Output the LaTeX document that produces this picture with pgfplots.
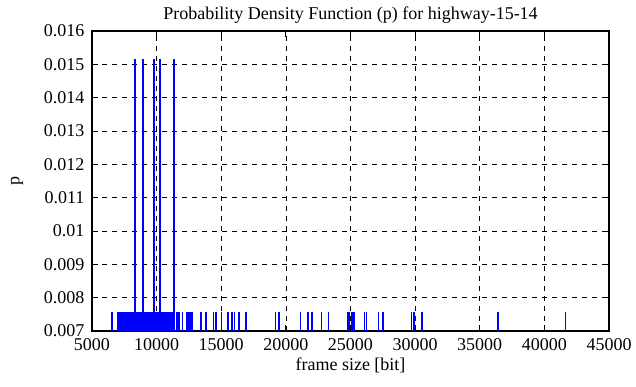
\documentclass[border=0pt]{standalone}
\usepackage{pgfplots}
\pgfplotsset{compat=1.18}
\usepackage{fontspec}
\setmainfont{Liberation Serif}
\begin{document}
\begin{tikzpicture}
\begin{axis}[
  scale only axis,
  width=517bp, height=300bp,
  xmin=5000, xmax=45000, ymin=0.007, ymax=0.016,
  scaled ticks=false,
  xtick={5000,10000,15000,20000,25000,30000,35000,40000,45000},
  xticklabels={5000,10000,15000,20000,25000,30000,35000,40000,45000},
  ytick={0.007,0.008,0.009,0.010,0.011,0.012,0.013,0.014,0.015,0.016},
  yticklabels={0.007,0.008,0.009,0.01,0.011,0.012,0.013,0.014,0.015,0.016},
  tick align=inside,
  major tick length=6bp,
  tick style={black, line width=1pt},
  axis line style={line width=1.4pt},
  grid=major,
  major grid style={black, dashed, line width=0.6pt, dash pattern=on 5bp off 5bp},
  tick label style={font=\fontsize{18bp}{20bp}\selectfont},
  label style={font=\fontsize{18bp}{20bp}\selectfont},
  title style={font=\fontsize{18bp}{20bp}\selectfont},
  title={Probability Density Function (p) for highway-15-14},
  xlabel={frame size [bit]},
  ylabel={p},
  every axis title/.append style={yshift=-2bp},
  xlabel style={yshift=0bp},
  ylabel style={yshift=14bp},
  xticklabel style={yshift=-4bp},
  yticklabel style={xshift=-4bp},
  clip=true,
]
\addplot[ycomb, no marks, color={rgb,255:red,0;green,0;blue,255}, line width=1.6pt] coordinates {
(6570,0.0075758) (7020,0.0075758) (7120,0.0075758) (7260,0.0075758) (7400,0.0075758)
(7480,0.0075758) (7530,0.0075758) (7575,0.0075758) (7630,0.0075758) (7660,0.0075758)
(7690,0.0075758) (7730,0.0075758) (7790,0.0075758) (7840,0.0075758) (7880,0.0075758)
(7935,0.0075758) (7990,0.0075758) (8040,0.0075758) (8090,0.0075758) (8140,0.0075758)
(8180,0.0075758) (8230,0.0075758) (8280,0.0075758) (8370,0.0075758) (8410,0.0075758)
(8460,0.0075758) (8510,0.0075758) (8560,0.0075758) (8610,0.0075758) (8650,0.0075758)
(8700,0.0075758) (8750,0.0075758) (8800,0.0075758) (8850,0.0075758) (8900,0.0075758)
(8950,0.0075758) (9010,0.0075758) (9060,0.0075758) (9110,0.0075758) (9150,0.0075758)
(9200,0.0075758) (9250,0.0075758) (9300,0.0075758) (9350,0.0075758) (9390,0.0075758)
(9440,0.0075758) (9490,0.0075758) (9530,0.0075758) (9580,0.0075758) (9630,0.0075758)
(9680,0.0075758) (9730,0.0075758) (9780,0.0075758) (9840,0.0075758) (9890,0.0075758)
(9940,0.0075758) (9990,0.0075758) (10040,0.0075758) (10090,0.0075758) (10140,0.0075758)
(10190,0.0075758) (10300,0.0075758) (10350,0.0075758) (10400,0.0075758) (10450,0.0075758)
(10500,0.0075758) (10550,0.0075758) (10600,0.0075758) (10650,0.0075758) (10700,0.0075758)
(10740,0.0075758) (10790,0.0075758) (10840,0.0075758) (10890,0.0075758) (10940,0.0075758)
(10990,0.0075758) (11040,0.0075758) (11090,0.0075758) (11140,0.0075758) (11190,0.0075758)
(11230,0.0075758) (11280,0.0075758)
(11560,0.0075758) (11720,0.0075758) (12000,0.0075758) (12360,0.0075758) (12500,0.0075758)
(12650,0.0075758) (12780,0.0075758) (13420,0.0075758) (13810,0.0075758) (14390,0.0075758)
(14600,0.0075758) (15020,0.0075758) (15530,0.0075758) (15840,0.0075758) (16040,0.0075758)
(16360,0.0075758) (16900,0.0075758) (19200,0.0075758) (19450,0.0075758) (21130,0.0075758)
(21710,0.0075758) (22030,0.0075758) (22750,0.0075758) (23290,0.0075758) (24800,0.0075758)
(24900,0.0075758) (25130,0.0075758) (25280,0.0075758) (26080,0.0075758) (26230,0.0075758)
(27170,0.0075758) (27520,0.0075758) (29710,0.0075758) (29930,0.0075758) (30530,0.0075758)
(36390,0.0075758) (41620,0.0075758)
(8323,0.0151515) (8965,0.0151515) (9791,0.0151515) (10255,0.0151515) (11337,0.0151515)
};
\end{axis}
\pgfresetboundingbox
\path (current axis.south west) ++(-92bp,-56bp) rectangle ++(636bp,387bp);
\end{tikzpicture}
\end{document}
